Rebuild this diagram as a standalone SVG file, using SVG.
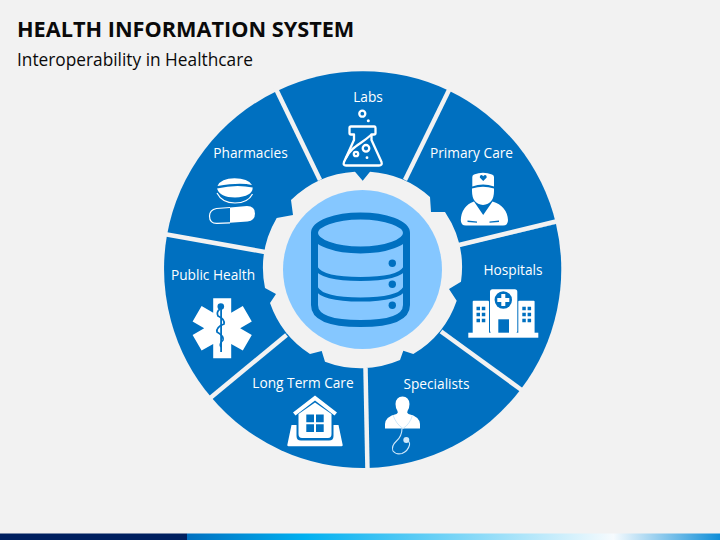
<svg xmlns="http://www.w3.org/2000/svg" width="720" height="540" viewBox="0 0 720 540">
<style>
.w{fill:#0070c0}
.t{font-family:"Open Sans","Liberation Sans",sans-serif;font-size:13.700px;fill:#fff;text-anchor:middle}
.i{fill:#fff}
.b{fill:#0070c0}
.s{fill:none;stroke:#fff;stroke-width:2.3;stroke-linejoin:round;stroke-linecap:round}
.sep{stroke:#f2f2f2;stroke-width:4.5;fill:none}
.db{fill:none;stroke:#0070c0;stroke-width:7}
.dl{fill:none;stroke:#0070c0;stroke-width:4}
</style>
<defs>
<linearGradient id="bar" x1="187" x2="720" y1="0" y2="0" gradientUnits="userSpaceOnUse">
<stop offset="0" stop-color="#0070c0"/>
<stop offset=".22" stop-color="#00b0f0"/>
<stop offset=".8" stop-color="#f6fbfe"/>
<stop offset="1" stop-color="#0f8ed8"/>
</linearGradient>
</defs>
<rect width="720" height="540" fill="#f2f2f2"/>
<rect y="533.5" width="187" height="6.5" fill="#002060"/>
<rect x="187" y="533.5" width="533" height="6.5" fill="url(#bar)"/>
<text x="17" y="37" font-family="Open Sans,Liberation Sans,sans-serif" font-size="21.700" font-weight="700" fill="#0a0a0a">HEALTH INFORMATION SYSTEM</text>
<text x="17" y="66" font-family="Open Sans,Liberation Sans,sans-serif" font-size="17.300" fill="#0a0a0a">Interoperability in Healthcare</text>

<g id="labs">
<path class="w" d="M362.5 269.5L277 91A198.5 198.5 0 0 1 448.5 90.5Z"/>
<text class="t" x="368" y="102">Labs</text>
<circle class="s" cx="362.3" cy="113.7" r="3" stroke-width="1.8"/>
<circle class="i" cx="368.3" cy="120.7" r="1.5"/>
<path class="s" d="M351 126.5H374.5Q375.5 126.500 375.500 128V133Q375.500 134.500 374 134.500H371.500V140L381.500 162Q382.500 165.500 379 165.500H346Q342.800 165.500 344 162L354 140V134.500H351Q349.500 134.500 349.500 133V128Q349.500 126.500 351 126.500Z"/>
<path class="s" stroke-width="1.5" d="M346 158C352 146 360 145 371 135"/>
<circle class="s" cx="366" cy="148.300" r="3.300"/>
<circle class="s" cx="356" cy="154" r="2.200"/>
<circle class="i" cx="367" cy="157.700" r="1.400"/>
</g>

<g id="primary-care">
<path class="w" d="M362.5 269.5L448.5 90.5A198.500 198.500 0 0 1 556 224Z"/>
<text class="t" x="471.500" y="158">Primary Care</text>
<path class="i" d="M472.300 177Q472.300 175 474 174.500Q483 171 492 174.500Q494 175 494 177V186.500Q483 182.500 472.300 186.500Z"/>
<path class="i" d="M472 188.500Q483 185 494 188.500V191Q494 204 483 205Q472 204 472 191Z"/>
<path class="b" d="M483.200 181L479.800 177.500Q479.500 174.800 481.500 175Q482.800 175.200 483.200 176.300Q483.700 175.200 485 175Q487 174.800 486.700 177.500Z"/>
<path class="i" d="M474 201.500L483.200 215L492.500 201.500Q507 206 508 220Q508 225.500 503 225.500H466Q460.800 225.500 460.800 220Q461.500 206 474 201.500Z"/>
<path class="b" d="M467.500 220.500L477 221.500V222.800L467.500 222ZM489.500 221.500L499 220.500V222L489.500 222.800Z"/>
</g>

<g id="hospitals">
<path class="w" d="M362.5 269.5L556 224A198.500 198.500 0 0 1 521 389Z"/>
<text class="t" x="513" y="275">Hospitals</text>
<rect class="i" x="468.300" y="332.700" width="70" height="5"/>
<rect class="i" x="472.700" y="300.700" width="16.300" height="33" rx="1"/>
<rect class="i" x="518.300" y="300.700" width="16.300" height="33" rx="1"/>
<rect class="i" x="490" y="289.300" width="27.300" height="44" rx="2.500"/>
<circle class="b" cx="503.300" cy="300" r="8.700"/>
<path class="i" d="M501.300 294H505.300V298H509.300V302H505.300V306H501.300V302H497.300V298H501.300Z"/>
<rect class="b" x="498.300" y="319.300" width="10.700" height="13.400"/>
<path class="b" d="M476.500 306.700h3.500v3.500h-3.500zM481.800 306.700h3.500v3.500h-3.500zM476.500 312.700h3.500v3.500h-3.500zM481.800 312.700h3.500v3.500h-3.500zM476.500 318.700h3.500v3.500h-3.500zM481.800 318.700h3.500v3.500h-3.500zM522.300 306.700h3.500v3.500h-3.500zM527.600 306.700h3.500v3.500h-3.500zM522.300 312.700h3.500v3.500h-3.500zM527.600 312.700h3.500v3.500h-3.500zM522.300 318.700h3.500v3.500h-3.500zM527.600 318.700h3.500v3.500h-3.500z"/>
</g>

<g id="specialists">
<path class="w" d="M362.5 269.5L521 389A198.500 198.500 0 0 1 367 468Z"/>
<text class="t" x="436.500" y="389">Specialists</text>
<path class="i" d="M402.500 396.500Q409 396.500 409.500 404Q409.500 408 407.500 411Q406.500 413 408.500 414Q419.500 416.500 420 424V428.500H385V424Q385.500 416.500 396.500 414Q398.500 413 397.500 411Q395.500 408 395.500 404Q396 396.500 402.500 396.500Z"/>
<path fill="none" stroke="#cfe8fa" stroke-width="1" d="M393 415Q396 424 403 428.500Q410 424 412.500 415"/>
<path fill="none" stroke="#cfe8fa" stroke-width="1.100" d="M402 428.500Q402 436 396.500 441Q391 446 393 451Q396 455 402 453.500Q408 451 409.500 445Q410 442 407 440"/>
<circle cx="406.300" cy="440" r="3" fill="#cfe8fa"/>
</g>

<g id="long-term-care">
<path class="w" d="M362.5 269.5L367 468A198.500 198.500 0 0 1 211 397Z"/>
<text class="t" x="303" y="387.500">Long Term Care</text>
<path class="i" d="M291.500 425H296.500V436Q296.500 440.500 301 440.500H329Q333.500 440.500 333.500 436V425H338.500L342.700 445Q342.700 446.300 341.500 446.300H288.500Q287.300 446.300 287.300 445Z"/>
<path class="i" d="M298.500 414L315 402.500L331.500 414V434Q331.500 438 328 438H302Q298.500 438 298.500 434Z"/>
<path class="i" d="M315 395.500L337 412.500L334.500 415.500L315 400.500L295.500 415.500L293 412.500Z"/>
<path class="b" d="M306.300 414.500h7.700v7.700h-7.700zM316 414.500h7.700v7.700h-7.700zM306.300 424.300h7.700v7.700h-7.700zM316 424.300h7.700v7.700h-7.700z"/>
</g>

<g id="public-health">
<path class="w" d="M362.5 269.5L211 397A198.500 198.500 0 0 1 167 235Z"/>
<text class="t" x="213" y="279.500">Public Health</text>
<path class="i" d="M213.200 298.300H231.200V312.700L242.800 306L251.800 321.600L240.200 328.300L251.800 335L242.800 350.600L231.200 343.900V358.300H213.200V343.900L201.600 350.600L192.600 335L204.200 328.300L192.600 321.600L201.600 306L213.200 312.700Z"/>
<rect class="b" x="220.200" y="306" width="1.800" height="46"/>
<circle class="b" cx="220.800" cy="306.500" r="3.300"/>
<path fill="none" stroke="#0070c0" stroke-width="1.700" d="M220 309Q216 312 218 316Q225 319 224 324Q216 327 217 332Q224 336 223 340Q219 344 221 347"/>
</g>

<g id="pharmacies">
<path class="w" d="M362.5 269.5L167 235A198.500 198.500 0 0 1 277 91Z"/>
<text class="t" x="250.500" y="158">Pharmacies</text>
<path class="i" d="M217.500 186Q221 178.300 234.500 178.300Q248 178.300 252 185Q240 182 217.500 186Z"/>
<path class="i" d="M217 188.500Q236 184 252.700 187.500Q252.700 196.500 235 197.500Q220 197.500 217 188.500Z"/>
<path fill="none" stroke="#fff" stroke-width="1.200" d="M217 193Q222 203 235 203Q248 203 252.500 194"/>
<path class="i" d="M230 207.500L247 206Q255 206 255 213.500Q255 220.500 247.500 221.500L230 222.800Z"/>
<path fill="none" stroke="#fff" stroke-width="1.200" d="M230 207.500L216.500 208.500Q209.500 210 209.500 216Q209.500 223.500 217 223.300L230 222.800"/>
</g>

<g id="connectors">
<path class="sep" d="M320 180L275.500 88"/>
<path class="sep" d="M405 180L450 88"/>
<path class="sep" d="M459 245L558 221"/>
<path class="sep" d="M441 331.500L523 391"/>
<path class="sep" d="M365.500 368L367.500 471"/>
<path class="sep" d="M286.500 335L209 399"/>
<path class="sep" d="M265 252L164 234"/>
</g>

<g id="hub">
<path fill="#f2f2f2" d="M370 171.700A99.500 99.500 0 0 1 430 197L431 212L445 212A99.500 99.500 0 0 1 461 281.700L449 289L456.700 300.700A99.500 99.500 0 0 1 413.300 354L403.300 350.700L400 360A99.500 99.500 0 0 1 325 361.700L321.700 351L310 354A99.500 99.500 0 0 1 270 303L276 294L265 288A99.500 99.500 0 0 1 276.700 218L293 215L291 200A99.500 99.500 0 0 1 355 171.700L362.700 180.700Z"/>
<circle cx="362.500" cy="269.500" r="79.500" fill="#85c7ff"/>
<ellipse class="db" cx="360.500" cy="233" rx="46" ry="17"/>
<path class="db" d="M314.500 233V305Q314.500 323.500 360.500 323.500Q406.500 323.500 406.500 305V233"/>
<path class="dl" d="M316 268Q322 279 360.500 279Q399 279 405 268"/>
<path class="dl" d="M316 288Q322 299.500 360.500 299.500Q399 299.500 405 288"/>
<circle class="b" cx="392.300" cy="263.300" r="3.700"/>
<circle class="b" cx="392.300" cy="284.300" r="3.700"/>
<circle class="b" cx="392.300" cy="305.300" r="3.700"/>
</g>
</svg>
